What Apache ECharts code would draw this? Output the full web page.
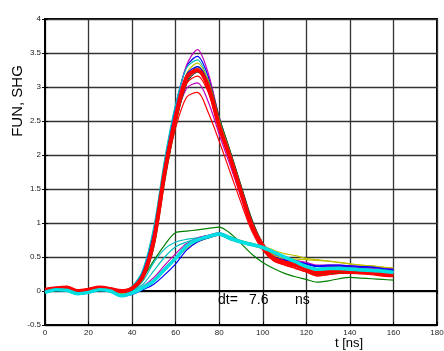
<!DOCTYPE html>
<html><head><meta charset="utf-8">
<script src="https://cdn.jsdelivr.net/npm/echarts@6/dist/echarts.min.js"></script>
<style>html,body{margin:0;padding:0;background:#fff}#c{width:444px;height:351px}</style>
</head><body><div id="c"></div>
<script>
const times = [0,5,10,15,20,25,30,35,40,45,50,55,60,65,70,75,80,85,90,95,100,105,110,115,120,125,130,135,140,145,150,155,160];
const xTicks = [0,20,40,60,80,100,120,140,160,180];
const yTicks = [-0.5,0,0.5,1,1.5,2,2.5,3,3.5,4];

// FUN traces
const funMain  = [0.02,0.04,0.05,0.00,0.02,0.05,0.03,0.00,0.04,0.22,0.75,1.75,2.55,3.14,3.25,3.00,2.42,1.96,1.45,0.96,0.66,0.48,0.42,0.38,0.32,0.27,0.28,0.30,0.30,0.29,0.28,0.26,0.24];
const funBlue  = [0.03,0.05,0.04,0.01,0.03,0.06,0.04,0.01,0.06,0.30,0.90,1.90,2.72,3.30,3.45,3.15,2.55,2.05,1.52,1.02,0.70,0.52,0.46,0.44,0.40,0.36,0.37,0.37,0.36,0.35,0.35,0.34,0.33];
const funMag   = [0.02,0.05,0.05,0.01,0.02,0.05,0.03,0.00,0.05,0.25,0.80,1.82,2.68,3.32,3.55,3.20,2.55,2.02,1.50,1.00,0.70,0.54,0.48,0.45,0.42,0.38,0.38,0.38,0.37,0.36,0.35,0.34,0.32];
const funRedLo = [0.01,0.03,0.04,-0.01,0.01,0.04,0.02,-0.01,0.03,0.20,0.72,1.68,2.40,2.85,2.92,2.62,2.20,1.75,1.30,0.88,0.60,0.44,0.38,0.33,0.28,0.22,0.24,0.26,0.26,0.25,0.24,0.22,0.21];
const funMagLo = [0.02,0.04,0.05,0.00,0.02,0.05,0.03,0.00,0.04,0.23,0.76,1.76,2.52,2.98,3.06,2.78,2.30,1.85,1.38,0.92,0.64,0.48,0.43,0.40,0.36,0.31,0.32,0.33,0.33,0.32,0.31,0.30,0.29];
const funGreen = [0.03,0.05,0.06,0.01,0.03,0.06,0.04,0.01,0.03,0.18,0.65,1.62,2.45,3.05,3.30,3.10,2.55,2.06,1.55,1.05,0.70,0.50,0.42,0.37,0.30,0.24,0.25,0.27,0.28,0.27,0.26,0.24,0.22];
const funCyan  = [0.02,0.04,0.04,0.00,0.02,0.05,0.03,0.00,0.07,0.32,0.95,1.95,2.75,3.28,3.40,3.08,2.48,1.98,1.46,0.98,0.68,0.50,0.44,0.41,0.37,0.33,0.34,0.35,0.34,0.33,0.32,0.31,0.30];
const funGray  = [0.02,0.04,0.05,0.01,0.02,0.05,0.03,0.01,0.03,0.19,0.68,1.66,2.48,3.05,3.22,3.05,2.52,2.05,1.55,1.05,0.70,0.50,0.43,0.39,0.33,0.28,0.29,0.31,0.31,0.30,0.29,0.27,0.25];
const funYel   = [0.03,0.05,0.05,0.01,0.03,0.05,0.04,0.01,0.05,0.24,0.80,1.80,2.62,3.20,3.35,3.08,2.50,2.02,1.50,1.00,0.70,0.53,0.48,0.47,0.46,0.45,0.44,0.42,0.40,0.38,0.37,0.35,0.34];
const funRed2  = [0.01,0.03,0.05,0.00,0.01,0.04,0.03,0.00,0.03,0.21,0.72,1.72,2.50,3.05,3.16,2.92,2.38,1.92,1.42,0.94,0.63,0.45,0.39,0.34,0.28,0.23,0.24,0.26,0.27,0.26,0.25,0.23,0.22];
const funBlue2 = [0.02,0.04,0.04,0.00,0.02,0.05,0.04,0.01,0.05,0.26,0.82,1.82,2.62,3.18,3.30,3.05,2.46,1.98,1.47,0.98,0.68,0.50,0.45,0.43,0.40,0.37,0.38,0.38,0.37,0.36,0.35,0.33,0.31];

// SHG traces
const shgMain  = [-0.02,0.02,0.01,-0.04,-0.02,0.02,0.00,-0.07,-0.03,0.05,0.15,0.32,0.48,0.66,0.75,0.80,0.84,0.77,0.72,0.68,0.64,0.57,0.50,0.43,0.36,0.32,0.33,0.33,0.32,0.31,0.30,0.29,0.27];
const shgGreen = [0.00,0.03,0.03,-0.02,0.00,0.04,0.02,-0.03,0.03,0.20,0.45,0.68,0.86,0.88,0.90,0.92,0.94,0.85,0.70,0.54,0.42,0.33,0.26,0.21,0.17,0.13,0.15,0.18,0.20,0.19,0.18,0.17,0.16];
const shgYel   = [-0.01,0.02,0.02,-0.03,-0.01,0.03,0.01,-0.05,-0.01,0.04,0.15,0.30,0.48,0.62,0.72,0.78,0.82,0.78,0.74,0.70,0.66,0.60,0.55,0.52,0.48,0.46,0.44,0.42,0.40,0.38,0.37,0.35,0.33];
const shgCyan2 = [-0.02,0.02,0.01,-0.04,-0.02,0.02,0.00,-0.06,0.00,0.15,0.42,0.62,0.72,0.76,0.78,0.82,0.86,0.80,0.74,0.70,0.65,0.57,0.50,0.42,0.35,0.30,0.31,0.32,0.31,0.30,0.29,0.28,0.27];
const shgBlue  = [-0.03,0.01,0.00,-0.05,-0.03,0.01,-0.01,-0.08,-0.05,0.02,0.10,0.24,0.40,0.60,0.72,0.78,0.82,0.76,0.72,0.68,0.63,0.56,0.49,0.42,0.36,0.33,0.34,0.35,0.35,0.34,0.33,0.31,0.29];
const shgMag   = [-0.02,0.02,0.01,-0.04,-0.02,0.02,0.00,-0.07,-0.02,0.07,0.20,0.38,0.55,0.70,0.78,0.82,0.85,0.78,0.73,0.69,0.65,0.58,0.51,0.45,0.40,0.36,0.36,0.36,0.35,0.34,0.33,0.31,0.29];
const shgRed   = [-0.01,0.03,0.02,-0.03,-0.01,0.03,0.01,-0.06,-0.02,0.06,0.17,0.34,0.50,0.66,0.74,0.79,0.83,0.76,0.71,0.67,0.62,0.54,0.46,0.38,0.31,0.26,0.27,0.28,0.28,0.27,0.26,0.25,0.24];
const shgCyan3 = [-0.02,0.02,0.01,-0.04,-0.02,0.02,0.00,-0.06,0.00,0.10,0.30,0.50,0.65,0.72,0.77,0.81,0.84,0.78,0.73,0.69,0.64,0.57,0.50,0.43,0.37,0.33,0.33,0.33,0.32,0.31,0.30,0.29,0.28];

const C = {b:'#0000ff', g:'#008000', r:'#ff0000', c:'#00bfbf', m:'#bf00bf', y:'#bfbf00', k:'#404040'};

const thin = [
  [shgGreen, C.g], [shgYel, C.y], [shgCyan2, C.c], [shgBlue, C.b], [shgMag, C.m], [shgRed, C.r], [shgCyan3, C.c],
  [funBlue, C.b], [funMag, C.m], [funRedLo, C.r], [funMagLo, C.m], [funGreen, C.g], [funCyan, C.c],
  [funGray, C.k], [funYel, C.y], [funRed2, C.r], [funBlue2, C.b]
];

function pairs(v){ return times.map((t,i)=>[t, v[i]]); }

const series = thin.map(([v,col]) => ({
  type:'line', data:pairs(v), showSymbol:false, smooth:0.3,
  lineStyle:{color:col, width:1.2}, silent:true, z:2
}));
series.push({type:'line', data:pairs(funMain), showSymbol:false, smooth:0.3, lineStyle:{color:C.r, width:4}, z:3, silent:true});
series.push({type:'line', data:pairs(shgMain), showSymbol:false, smooth:0.3, lineStyle:{color:'#00e0e0', width:3.5}, z:3, silent:true});

const lblFont = {fontFamily:'Liberation Sans', fontSize:8, color:'#222'};

const chart = echarts.init(document.getElementById('c'), null, {renderer:'canvas'});
chart.setOption({
  animation:false,
  grid:{left:45, top:19, right:7, bottom:26, containLabel:false, outerBoundsMode:'none',
        show:true, borderColor:'#000', borderWidth:2, backgroundColor:'#fff'},
  xAxis:[{
    type:'value', min:xTicks[0], max:xTicks[xTicks.length-1], interval:20,
    axisLine:{show:true, onZero:false, lineStyle:{color:'#000', width:2}},
    axisTick:{show:true, inside:true, length:3, lineStyle:{color:'#000'}},
    splitLine:{show:true, lineStyle:{color:'#333', width:1.3}},
    axisLabel:Object.assign({margin:4}, lblFont)
  },{
    type:'value', position:'top', min:0, max:180, interval:20,
    axisLine:{show:true, lineStyle:{color:'#000', width:2}},
    axisTick:{show:true, inside:true, length:3, lineStyle:{color:'#000'}},
    axisLabel:{show:false}, splitLine:{show:false}
  }],
  yAxis:[{
    type:'value', min:yTicks[0], max:yTicks[yTicks.length-1], interval:0.5,
    axisLine:{show:true, onZero:false, lineStyle:{color:'#000', width:2}},
    axisTick:{show:true, inside:true, length:3, lineStyle:{color:'#000'}},
    splitLine:{show:true, lineStyle:{color:'#333', width:1.3}},
    axisLabel:Object.assign({margin:4}, lblFont)
  },{
    type:'value', position:'right', min:-0.5, max:4, interval:0.5,
    axisLine:{show:true, lineStyle:{color:'#000', width:2}},
    axisTick:{show:true, inside:true, length:3, lineStyle:{color:'#000'}},
    axisLabel:{show:false}, splitLine:{show:false}
  }],
  graphic:[
    {type:'text', x:349, y:343, style:{text:'t [ns]', fontFamily:'Liberation Sans', fontSize:13, fill:'#000', align:'center', verticalAlign:'middle'}, z:10},
    {type:'text', x:18, y:101, rotation:Math.PI/2, style:{text:'FUN, SHG', fontFamily:'Liberation Sans', fontSize:15, fill:'#000', align:'center', verticalAlign:'middle'}, z:10},
    {type:'text', x:218, y:300, style:{text:'dt=', fontFamily:'Liberation Sans', fontSize:14, fill:'#000', verticalAlign:'middle'}, z:10},
    {type:'text', x:249, y:300, style:{text:'7.6', fontFamily:'Liberation Sans', fontSize:14, fill:'#000', verticalAlign:'middle'}, z:10},
    {type:'text', x:295, y:300, style:{text:'ns', fontFamily:'Liberation Sans', fontSize:14, fill:'#000', verticalAlign:'middle'}, z:10}
  ],
  series: series
});
</script>
</body></html>
